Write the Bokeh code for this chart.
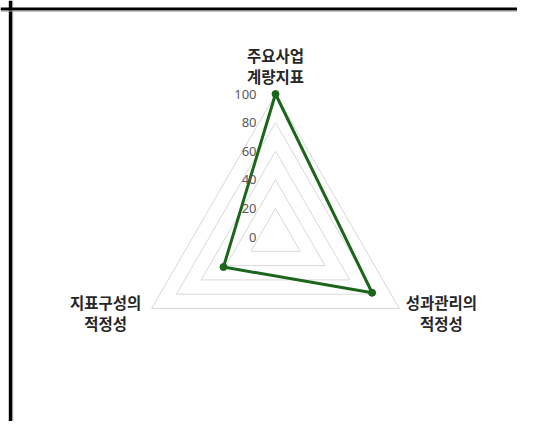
import numpy as np
from bokeh.plotting import figure
from bokeh.models import Range1d, Span
from bokeh.core.properties import value
from bokeh.embed import file_html
from bokeh.resources import INLINE

# ---- data ----
categories = ["주요사업\n계량지표", "성과관리의\n적정성", "지표구성의\n적정성"]
values = [100, 78, 42]
ring_levels = [20, 40, 60, 80, 100]
tick_values = [0, 20, 40, 60, 80, 100]
tick_labels = ["0", "20", "40", "60", "80", "100"]

# ---- layout constants ----
W, H = 517, 421
PX = 1.43            # pixels per value unit
CX, CY = 275, 236.5  # centre in figure pixels (from top-left)
GREEN = "#1B661B"

x_range = Range1d(-CX / PX, (W - CX) / PX)
y_range = Range1d(-(H - CY) / PX, CY / PX)

p = figure(width=W, height=H, x_range=x_range, y_range=y_range,
           output_backend="svg", toolbar_location=None, min_border=0,
           x_axis_location=None, y_axis_location=None)
p.grid.visible = False
p.outline_line_color = None
p.background_fill_color = "white"
p.border_fill_color = "white"

n = len(categories)
ang = np.pi / 2 - 2 * np.pi * np.arange(n) / n
ux, uy = np.cos(ang), np.sin(ang)

# grid rings
xs = [list(r * ux) for r in ring_levels]
ys = [list(r * uy) for r in ring_levels]
p.patches(xs, ys, fill_color=None, line_color="#d9d9d9", line_width=1)

# series
v = np.array(values, dtype=float)
sx, sy = v * ux, v * uy
p.line(list(sx) + [sx[0]], list(sy) + [sy[0]], line_color=GREEN,
       line_width=3, line_join="round")
p.scatter(sx, sy, size=7, color=GREEN)

# tick labels
p.text(x=[-19 / PX] * len(tick_values), y=tick_values, text=tick_labels,
       text_align="right", text_baseline="middle", text_font_size="13px",
       text_font=value("Noto Sans"), text_color="#595959")

# category labels
off_x = np.array([0, 42, -46]) / PX
off_y = np.array([28.5, -4, -4]) / PX
lx = 100 * ux + off_x
ly = 100 * uy + off_y
p.text(x=lx, y=ly, text=categories, text_align="center", text_baseline="middle",
       text_line_height=0.95, text_font_size="15.5px",
       text_font=value("Noto Sans CJK KR"), text_font_style="bold",
       text_color="#262626")

# frame (left and top edge)
p.add_layout(Span(location=x_range.start + 10 / PX, dimension="height",
                  line_color="black", line_width=3.4))
p.add_layout(Span(location=x_range.start + 12.2 / PX, dimension="height",
                  line_color="#9a9a9a", line_width=1))
p.add_layout(Span(location=y_range.end - 8.6 / PX, dimension="width",
                  line_color="black", line_width=3))
p.add_layout(Span(location=y_range.end - 10.6 / PX, dimension="width",
                  line_color="#9a9a9a", line_width=1))

open("out.html", "w").write(file_html(p, INLINE))
